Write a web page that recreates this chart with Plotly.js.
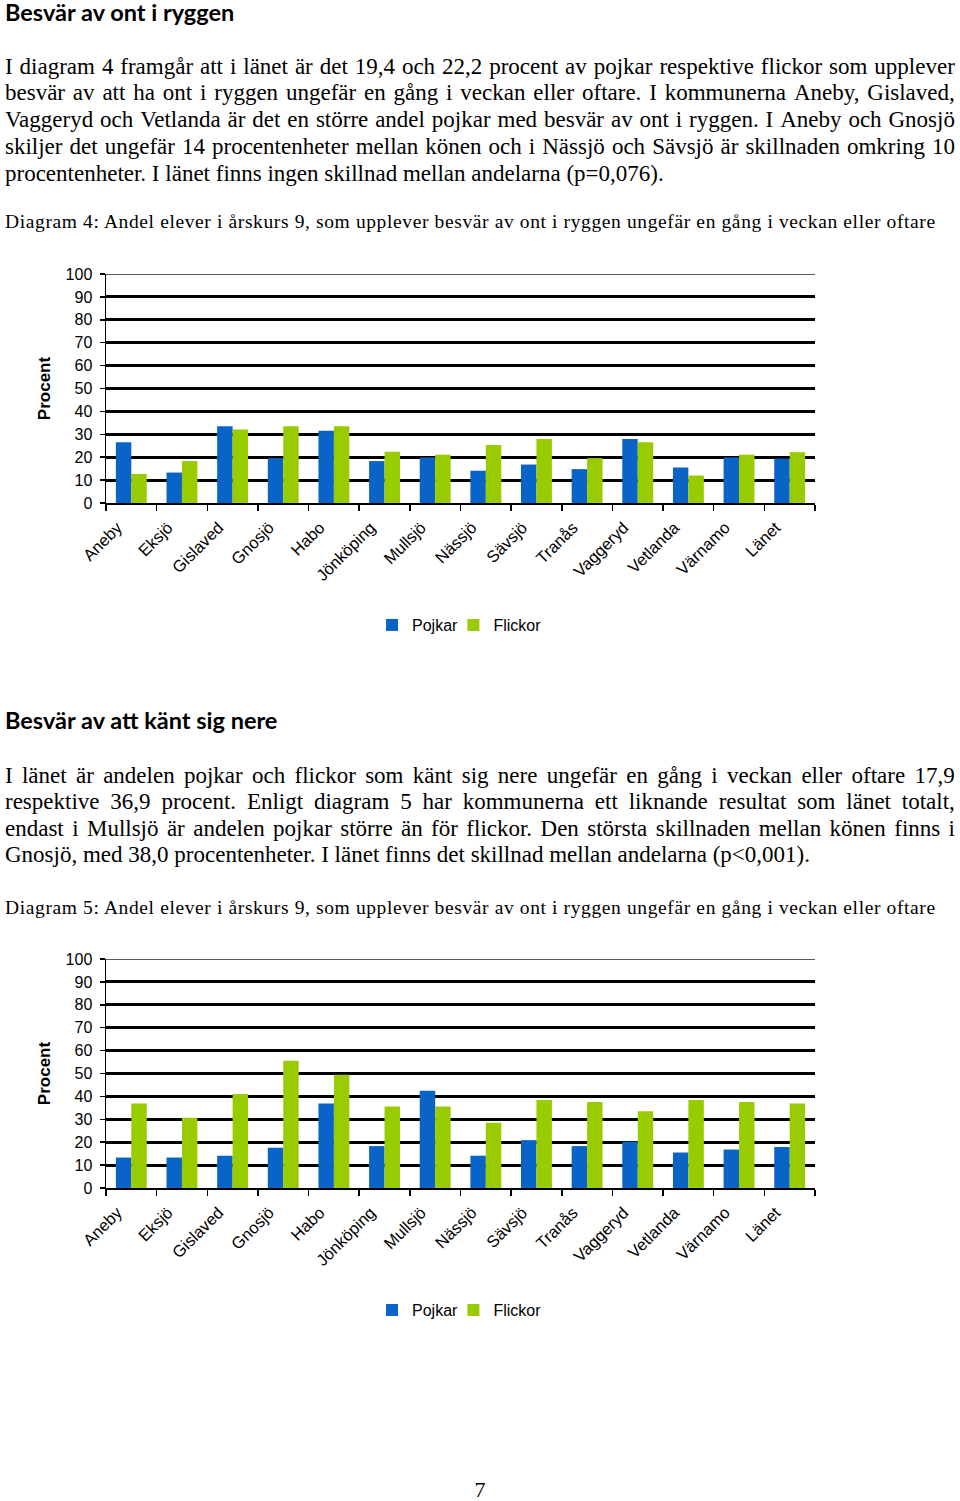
<!DOCTYPE html>
<html lang="sv">
<head>
<meta charset="utf-8">
<script src="https://cdn.plot.ly/plotly-3.0.1.min.js"></script>
<style>
  html, body { margin: 0; padding: 0; background: #fff; }
  body { width: 960px; height: 1501px; position: relative; overflow: hidden; }
  .h { position: absolute; left: 5px; font-family: Lato, "Open Sans", sans-serif; font-weight: bold; font-size: 23.5px; line-height: 26px; color: #000; }
  .ln { position: absolute; left: 5px; width: 950px; font-family: "Liberation Serif", "DejaVu Serif", serif; font-size: 23px; line-height: 26px; height: 26px; color: #000; white-space: nowrap; }
  .j { display: flex; justify-content: space-between; }
  .cap { font-size: 19.5px; letter-spacing: 0.62px; }
  .chart { position: absolute; left: 0; width: 960px; height: 420px; }
  .pg { position: absolute; left: 0; width: 960px; top: 1477px; text-align: center; font-family: "Liberation Serif", serif; font-size: 22px; line-height: 26px; }
</style>
</head>
<body>
<div class="h" style="top:-1px">Besvär av ont i ryggen</div>
<div class="ln j" style="top:54px">I diagram 4 framgår att i länet är det 19,4 och 22,2 procent av pojkar respektive flickor som upplever</div>
<div class="ln j" style="top:80px">besvär av att ha ont i ryggen ungefär en gång i veckan eller oftare. I kommunerna Aneby, Gislaved,</div>
<div class="ln j" style="top:107px">Vaggeryd och Vetlanda är det en större andel pojkar med besvär av ont i ryggen. I Aneby och Gnosjö</div>
<div class="ln j" style="top:134px">skiljer det ungefär 14 procentenheter mellan könen och i Nässjö och Sävsjö är skillnaden omkring 10</div>
<div class="ln" style="top:161px">procentenheter. I länet finns ingen skillnad mellan andelarna (p=0,076).</div>
<div class="ln cap" style="top:209px">Diagram 4: Andel elever i årskurs 9, som upplever besvär av ont i ryggen ungefär en gång i veckan eller oftare</div>
<div id="chart1" class="chart" style="top:240px"></div>

<div class="h" style="top:707px">Besvär av att känt sig nere</div>
<div class="ln j" style="top:763px">I länet är andelen pojkar och flickor som känt sig nere ungefär en gång i veckan eller oftare 17,9</div>
<div class="ln j" style="top:789px">respektive 36,9 procent. Enligt diagram 5 har kommunerna ett liknande resultat som länet totalt,</div>
<div class="ln j" style="top:816px">endast i Mullsjö är andelen pojkar större än för flickor. Den största skillnaden mellan könen finns i</div>
<div class="ln" style="top:842px">Gnosjö, med 38,0 procentenheter. I länet finns det skillnad mellan andelarna (p&lt;0,001).</div>
<div class="ln cap" style="top:895px">Diagram 5: Andel elever i årskurs 9, som upplever besvär av ont i ryggen ungefär en gång i veckan eller oftare</div>
<div id="chart2" class="chart" style="top:925px"></div>

<div class="pg">7</div>

<script>
// justify each full line by spreading its words
document.querySelectorAll('.j').forEach(function (el) {
  const words = el.textContent.trim().split(/\s+/);
  el.textContent = '';
  words.forEach(function (w) { const s = document.createElement('span'); s.textContent = w; el.appendChild(s); });
});

const categories = ['Aneby','Eksjö','Gislaved','Gnosjö','Habo','Jönköping','Mullsjö','Nässjö','Sävsjö','Tranås','Vaggeryd','Vetlanda','Värnamo','Länet'];
const seriesNames = ['Pojkar','Flickor'];
const ryggPojkar  = [26.5,13.3,33.5,19.6,31.5,18.3,19.9,14.1,16.8,14.8,28.0,15.5,19.9,19.4];
const ryggFlickor = [12.7,18.3,32.1,33.5,33.5,22.4,21.1,25.3,28.0,19.6,26.5,12.0,21.1,22.2];
const nerePojkar  = [13.3,13.3,14.1,17.6,36.9,18.3,42.5,14.1,20.9,18.3,20.2,15.5,16.8,17.9];
const nereFlickor = [36.9,30.7,41.1,55.6,49.5,35.6,35.6,28.5,38.4,37.6,33.5,38.4,37.6,36.9];
const yTickVals = [0,10,20,30,40,50,60,70,80,90,100];
const yAxisTitle = 'Procent';

const BLUE = '#0a64c8', GREEN = '#99cc00';
const FONT = 'Liberation Sans, Arial, sans-serif';

function legendBox(x, xanchor) {
  return {orientation:'h', x:x, xanchor:xanchor, y:-0.533, yanchor:'middle',
          font:{family: FONT, size:16, color:'#000'}, itemwidth:30, bgcolor:'rgba(0,0,0,0)'};
}

function draw(id, boys, girls) {
  const traces = [
    {type:'bar', name: seriesNames[0], x: categories, y: boys, marker:{color: BLUE}, legend:'legend'},
    {type:'bar', name: seriesNames[1], x: categories, y: girls, marker:{color: GREEN}, legend:'legend2'}
  ];
  const yMax = yTickVals[yTickVals.length - 1];
  const layout = {
    width: 960, height: 420,
    margin: {l:106, r:145, t:34, b:157},
    paper_bgcolor: '#fff', plot_bgcolor: '#fff',
    barmode: 'group', bargap: 0.39, bargroupgap: 0,
    font: {family: FONT, size: 16, color: '#000'},
    showlegend: true,
    legend: legendBox(0.505, 'right'),
    legend2: legendBox(0.49, 'left'),
    xaxis: {type:'category', tickangle:-45, showline:true, linecolor:'#000', linewidth:1.5,
            ticks:'outside', tickson:'boundaries', ticklen:6, tickcolor:'#000', tickwidth:1.5,
            ticklabelshift:-14, ticklabelstandoff:7,
            tickfont:{family: FONT, size:16.5, color:'#000'}, showgrid:false, fixedrange:true},
    yaxis: {range:[0, yMax], tickvals: yTickVals, ticks:'outside', ticklen:5, tickcolor:'#000', tickwidth:1.5,
            showline:true, linecolor:'#000', linewidth:1.5, zeroline:false,
            showgrid:true, gridcolor:'#000', gridwidth:3, ticklabelstandoff:4,
            tickfont:{family: FONT, size:16, color:'#000'},
            title:{text: yAxisTitle, font:{family: FONT, size:17, color:'#000', weight:'bold'}, standoff:10},
            fixedrange:true},
    shapes: [{type:'line', xref:'paper', yref:'y', x0:0, x1:1, y0:yMax, y1:yMax,
              line:{color:'#222', width:1.5}, layer:'below'}]
  };
  Plotly.newPlot(id, traces, layout, {displayModeBar:false, staticPlot:true});
}
draw('chart1', ryggPojkar, ryggFlickor);
draw('chart2', nerePojkar, nereFlickor);
</script>
</body>
</html>
